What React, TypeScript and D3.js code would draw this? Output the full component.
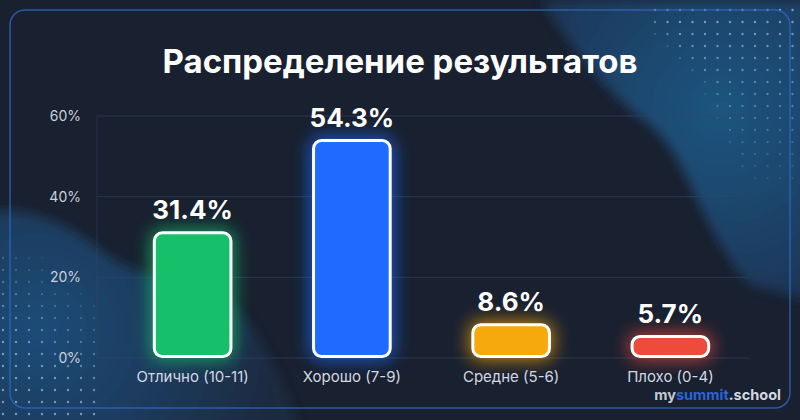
import React from 'react';
import * as d3 from 'd3';

// chart data
const categories = ['Отлично (10-11)', 'Хорошо (7-9)', 'Средне (5-6)', 'Плохо (0-4)'];
const values = [31.4, 54.3, 8.6, 5.7];
const barColors = ['#16c06a', '#1f6bff', '#f6a90c', '#ee4b3d'];
const yTicks = [0, 20, 40, 60];
const title = 'Распределение результатов';

const W = 800;
const H = 420;
const margin = { top: 116, right: 50, bottom: 62, left: 97 };

export default function App() {
  const x = d3
    .scaleBand<string>()
    .domain(categories)
    .range([113, 750])
    .paddingInner(0.5)
    .paddingOuter(0.25);
  const y = d3.scaleLinear().domain([0, 60]).range([H - margin.bottom, margin.top]);

  // decorative dot grids
  const dotsTR: { cx: number; cy: number; o: number }[] = [];
  d3.range(0, 15).forEach((r) => {
    d3.range(0, 12).forEach((c) => {
      const cx = 655 + c * 12.5;
      const cy = 10 + r * 12;
      // staircase edge on the left, fading downwards
      const edge = 690 + Math.max(0, 6 - r) * -6 + r * 4;
      const fade = 0.75 - r * 0.045 - Math.max(0, (edge - cx) / 40);
      if (cx < 800 && fade > 0.08) dotsTR.push({ cx, cy, o: fade });
    });
  });
  const dotsBL: { cx: number; cy: number; o: number }[] = [];
  d3.range(0, 14).forEach((r) => {
    d3.range(0, 8).forEach((c) => {
      const cx = 3 + c * 13;
      const cy = 258 + r * 12;
      const fade = Math.max(0, 0.25 + r * 0.07 - c * 0.06);
      if (cy < 420 && fade > 0.05) dotsBL.push({ cx, cy, o: Math.min(0.7, fade) });
    });
  });

  const y0 = y(0);

  return (
    <svg
      width={W}
      height={H}
      style={{ position: 'fixed', left: 0, top: 0, fontFamily: 'Inter, "Noto Sans", sans-serif' }}
    >
      <defs>
        <radialGradient id="glowTR" cx="720" cy="110" r="260" gradientUnits="userSpaceOnUse">
          <stop offset="0" stopColor="#1f557f" />
          <stop offset="0.6" stopColor="#1b3d62" />
          <stop offset="1" stopColor="#1a2a42" />
        </radialGradient>
        <radialGradient id="glowBL" cx="40" cy="330" r="240" gradientUnits="userSpaceOnUse">
          <stop offset="0" stopColor="#1f4c78" />
          <stop offset="0.6" stopColor="#1c3858" />
          <stop offset="1" stopColor="#1b2a40" />
        </radialGradient>
        <filter id="blur" x="-50%" y="-50%" width="200%" height="200%">
          <feGaussianBlur stdDeviation="9" />
        </filter>
        <filter id="soft" x="-20%" y="-20%" width="140%" height="140%">
          <feGaussianBlur stdDeviation="6" />
        </filter>
      </defs>

      <rect width={W} height={H} fill="#19202f" />

      {/* background decoration */}
      <g filter="url(#soft)">
        <path
          d="M540,0 C580,60 615,100 650,125 C690,160 700,230 750,285 L810,300 L810,0 Z"
          fill="url(#glowTR)"
        />
        <path
          d="M-10,210 C45,208 78,232 103,252 C125,268 145,275 178,279 C235,288 270,340 300,430 L-10,430 Z"
          fill="url(#glowBL)"
        />
      </g>
      {dotsTR.map((d, i) => (
        <circle key={'t' + i} cx={d.cx} cy={d.cy} r={1.2} fill="#9fc0e8" opacity={d.o} />
      ))}
      {dotsBL.map((d, i) => (
        <circle key={'b' + i} cx={d.cx} cy={d.cy} r={1.2} fill="#9fc0e8" opacity={d.o} />
      ))}

      <rect
        x={10}
        y={10}
        width={780}
        height={398}
        rx={15}
        fill="none"
        stroke="#2d68bf"
        strokeOpacity={0.8}
        strokeWidth={1.5}
      />

      <text
        x={W / 2}
        y={73}
        textAnchor="middle"
        fill="#ffffff"
        fontSize={33}
        fontWeight={700}
      >
        {title}
      </text>

      {/* grid */}
      {yTicks.map((t) => (
        <g key={t}>
          <line x1={margin.left} x2={750} y1={y(t)} y2={y(t)} stroke="#33466a" strokeOpacity={0.6} />
          <text x={81} y={y(t) + 5} textAnchor="end" fill="#c9d0db" fontSize={14}>
            {t}%
          </text>
        </g>
      ))}
      <line x1={margin.left} x2={margin.left} y1={y(60)} y2={y0} stroke="#33466a" strokeOpacity={0.5} />

      {/* bars */}
      {categories.map((c, i) => {
        const bx = x(c) as number;
        const bw = x.bandwidth();
        const by = y(values[i]);
        const bh = y0 - by;
        return (
          <g key={c}>
            <rect
              x={bx - 2}
              y={by - 2}
              width={bw + 4}
              height={bh + 4}
              rx={10}
              fill={barColors[i]}
              opacity={0.75}
              filter="url(#blur)"
            />
            <rect
              x={bx + 1.5}
              y={by + 1.5}
              width={bw - 3}
              height={bh - 3}
              rx={8}
              fill={barColors[i]}
              stroke="#ffffff"
              strokeWidth={3}
            />
            <text
              x={bx + bw / 2}
              y={by - 12}
              textAnchor="middle"
              fill="#ffffff"
              fontSize={26}
              fontWeight={700}
            >
              {values[i]}%
            </text>
            <text x={bx + bw / 2} y={382} textAnchor="middle" fill="#d3d9e2" fontSize={15}>
              {c}
            </text>
          </g>
        );
      })}

      {/* watermark */}
      <text x={781} y={400} textAnchor="end" fontSize={14.5} fontWeight={700}>
        <tspan fill="#c2c9d4">my</tspan>
        <tspan fill="#2b63d9">summit</tspan>
        <tspan fill="#d3d9e2">.school</tspan>
      </text>
    </svg>
  );
}
